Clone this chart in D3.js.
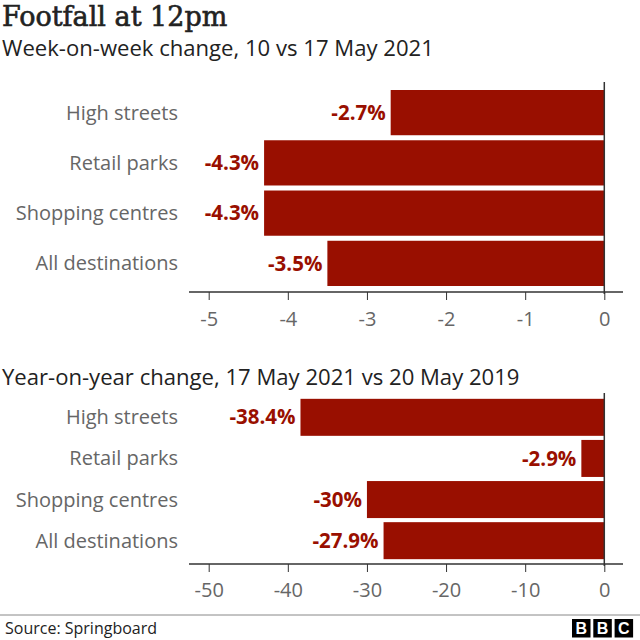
<!DOCTYPE html>
<html><head><meta charset="utf-8">
<script src="https://cdn.jsdelivr.net/npm/d3@7"></script>
<style>body{margin:0;background:#fff}svg{display:block}</style>
</head><body>
<svg id="c" width="640" height="640"></svg>
<script>
const categories = ["High streets","Retail parks","Shopping centres","All destinations"];
const weekValues = [-2.7,-4.3,-4.3,-3.5];
const weekLabels = ["-2.7%","-4.3%","-4.3%","-3.5%"];
const weekTicks = [-5,-4,-3,-2,-1,0];
const yearValues = [-38.4,-2.9,-30,-27.9];
const yearLabels = ["-38.4%","-2.9%","-30%","-27.9%"];
const yearTicks = [-50,-40,-30,-20,-10,0];

const svg = d3.select("#c");
const sans = "'Open Sans', 'Noto Sans', sans-serif";
const red = "#990f00";
const grey = "#666";

svg.append("text").attr("x",2).attr("y",26).attr("font-family","'DejaVu Serif', serif")
  .attr("font-size",27).attr("fill","#222").attr("stroke","#222").attr("stroke-width",0.6)
  .text("Footfall at 12pm");
svg.append("text").attr("x",2).attr("y",56).attr("font-family",sans)
  .attr("font-size",22.1).attr("fill","#222").text("Week-on-week change, 10 vs 17 May 2021");
svg.append("text").attr("x",2).attr("y",385).attr("font-family",sans)
  .attr("font-size",22.1).attr("fill","#222").text("Year-on-year change, 17 May 2021 vs 20 May 2019");

function panel(values, labels, ticks, domain, top, bottom, axisY, vTop, pad){
  const x = d3.scaleLinear().domain(domain).range([208.7,604.3]);
  const y = d3.scaleBand().domain(categories).range([top,bottom]).paddingInner(0.1).paddingOuter(0.02);
  const g = svg.append("g");
  g.selectAll("rect.bar").data(categories).join("rect")
    .attr("x",(d,i)=>x(values[i])).attr("width",(d,i)=>x(0)-x(values[i]))
    .attr("y",d=>y(d)).attr("height",y.bandwidth()).attr("fill",red);
  g.selectAll("text.val").data(categories).join("text")
    .attr("x",(d,i)=>x(values[i])-5).attr("y",d=>y(d)+y.bandwidth()/2)
    .attr("dy","0.35em").attr("text-anchor","end").attr("font-family",sans)
    .attr("font-weight","bold").attr("font-size",20.5).attr("fill",red)
    .text((d,i)=>labels[i]);
  g.selectAll("text.cat").data(categories).join("text")
    .attr("x",178).attr("y",d=>y(d)+y.bandwidth()/2).attr("dy","0.35em")
    .attr("text-anchor","end").attr("font-family",sans).attr("font-size",20)
    .attr("fill",grey).text(d=>d);
  g.append("line").attr("x1",x(0)).attr("x2",x(0)).attr("y1",vTop).attr("y2",axisY+2)
    .attr("stroke","#333").attr("stroke-width",1.5);
  const ax = g.append("g").attr("transform",`translate(0,${axisY})`)
    .call(d3.axisBottom(x).tickValues(ticks).tickSize(8).tickPadding(pad).tickFormat(d3.format("d")));
  ax.select(".domain").remove();
  ax.append("line").attr("x1",189).attr("x2",623).attr("stroke","#333").attr("stroke-width",1.5);
  ax.selectAll(".tick line").attr("stroke","#333");
  ax.selectAll(".tick text").attr("font-family",sans).attr("font-size",20).attr("fill",grey)
    .text(d=>d<0?"-"+Math.abs(d):d);
}
panel(weekValues, weekLabels, weekTicks, [-5,0], 89, 287, 292, 82, 12);
panel(yearValues, yearLabels, yearTicks, [-50,0], 398, 560, 564, 393, 11);

svg.append("line").attr("x1",0).attr("x2",640).attr("y1",615).attr("y2",615).attr("stroke","#888").attr("stroke-width",1);
svg.append("text").attr("x",5).attr("y",634).attr("font-family",sans).attr("font-size",16)
  .attr("fill","#222").text("Source: Springboard");
const logo = svg.append("g");
["B","B","C"].forEach((l,i)=>{
  logo.append("rect").attr("x",572+i*21.3).attr("y",619).attr("width",18.5).attr("height",18.5).attr("fill","#000");
  logo.append("text").attr("x",572+i*21.3+9.25).attr("y",634).attr("text-anchor","middle")
    .attr("font-family","'Liberation Sans', Arial, sans-serif").attr("font-weight","bold").attr("font-size",16).attr("fill","#fff").text(l);
});
</script>
</body></html>
